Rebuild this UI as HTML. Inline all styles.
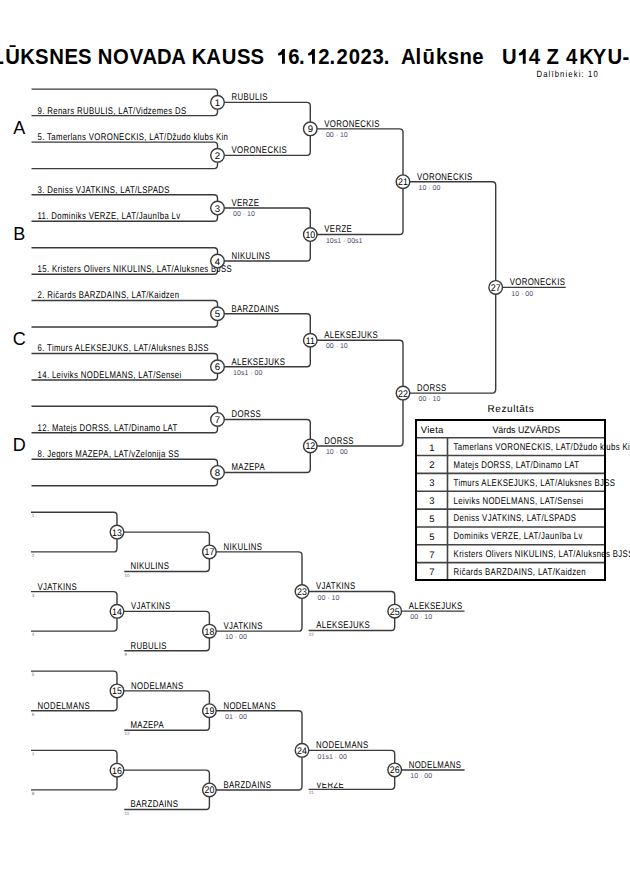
<!DOCTYPE html>
<html><head><meta charset="utf-8"><style>
html,body{margin:0;padding:0;background:#fff;width:630px;height:891px;overflow:hidden}
svg{position:absolute;left:0;top:0;font-family:"Liberation Sans", sans-serif}
</style></head><body>
<svg width="630" height="891" viewBox="0 0 630 891">
<defs><clipPath id="cv"><rect x="300" y="782.8" width="100" height="20"/></clipPath></defs>
<path d="M31.5 89.1 H214.0 Q217.5 89.1 217.5 92.6 V102.35" fill="none" stroke="#3a3a3a" stroke-width="1.4"/>
<path d="M31.5 115.6 H214.0 Q217.5 115.6 217.5 112.1 V102.35" fill="none" stroke="#3a3a3a" stroke-width="1.4"/>
<path d="M31.5 142.1 H214.0 Q217.5 142.1 217.5 145.6 V155.35" fill="none" stroke="#3a3a3a" stroke-width="1.4"/>
<path d="M31.5 168.6 H214.0 Q217.5 168.6 217.5 165.1 V155.35" fill="none" stroke="#3a3a3a" stroke-width="1.4"/>
<path d="M217.5 102.35 H306.8 Q310.3 102.35 310.3 105.85 V128.85" fill="none" stroke="#3a3a3a" stroke-width="1.4"/>
<path d="M217.5 155.35 H306.8 Q310.3 155.35 310.3 151.85 V128.85" fill="none" stroke="#3a3a3a" stroke-width="1.4"/>
<path d="M31.5 194.8 H214.0 Q217.5 194.8 217.5 198.3 V208.05" fill="none" stroke="#3a3a3a" stroke-width="1.4"/>
<path d="M31.5 221.3 H214.0 Q217.5 221.3 217.5 217.8 V208.05" fill="none" stroke="#3a3a3a" stroke-width="1.4"/>
<path d="M31.5 247.8 H214.0 Q217.5 247.8 217.5 251.3 V261.05" fill="none" stroke="#3a3a3a" stroke-width="1.4"/>
<path d="M31.5 274.3 H214.0 Q217.5 274.3 217.5 270.8 V261.05" fill="none" stroke="#3a3a3a" stroke-width="1.4"/>
<path d="M217.5 208.05 H306.8 Q310.3 208.05 310.3 211.55 V234.55" fill="none" stroke="#3a3a3a" stroke-width="1.4"/>
<path d="M217.5 261.05 H306.8 Q310.3 261.05 310.3 257.55 V234.55" fill="none" stroke="#3a3a3a" stroke-width="1.4"/>
<path d="M31.5 300.5 H214.0 Q217.5 300.5 217.5 304.0 V313.75" fill="none" stroke="#3a3a3a" stroke-width="1.4"/>
<path d="M31.5 327.0 H214.0 Q217.5 327.0 217.5 323.5 V313.75" fill="none" stroke="#3a3a3a" stroke-width="1.4"/>
<path d="M31.5 353.5 H214.0 Q217.5 353.5 217.5 357.0 V366.75" fill="none" stroke="#3a3a3a" stroke-width="1.4"/>
<path d="M31.5 380.0 H214.0 Q217.5 380.0 217.5 376.5 V366.75" fill="none" stroke="#3a3a3a" stroke-width="1.4"/>
<path d="M217.5 313.75 H306.8 Q310.3 313.75 310.3 317.25 V340.25" fill="none" stroke="#3a3a3a" stroke-width="1.4"/>
<path d="M217.5 366.75 H306.8 Q310.3 366.75 310.3 363.25 V340.25" fill="none" stroke="#3a3a3a" stroke-width="1.4"/>
<path d="M31.5 406.20000000000005 H214.0 Q217.5 406.20000000000005 217.5 409.70000000000005 V419.45000000000005" fill="none" stroke="#3a3a3a" stroke-width="1.4"/>
<path d="M31.5 432.70000000000005 H214.0 Q217.5 432.70000000000005 217.5 429.20000000000005 V419.45000000000005" fill="none" stroke="#3a3a3a" stroke-width="1.4"/>
<path d="M31.5 459.20000000000005 H214.0 Q217.5 459.20000000000005 217.5 462.70000000000005 V472.45000000000005" fill="none" stroke="#3a3a3a" stroke-width="1.4"/>
<path d="M31.5 485.70000000000005 H214.0 Q217.5 485.70000000000005 217.5 482.20000000000005 V472.45000000000005" fill="none" stroke="#3a3a3a" stroke-width="1.4"/>
<path d="M217.5 419.45000000000005 H306.8 Q310.3 419.45000000000005 310.3 422.95000000000005 V445.95000000000005" fill="none" stroke="#3a3a3a" stroke-width="1.4"/>
<path d="M217.5 472.45000000000005 H306.8 Q310.3 472.45000000000005 310.3 468.95000000000005 V445.95000000000005" fill="none" stroke="#3a3a3a" stroke-width="1.4"/>
<path d="M310.3 128.85 H399.5 Q403.0 128.85 403.0 132.35 V181.7" fill="none" stroke="#3a3a3a" stroke-width="1.4"/>
<path d="M310.3 234.55 H399.5 Q403.0 234.55 403.0 231.05 V181.7" fill="none" stroke="#3a3a3a" stroke-width="1.4"/>
<path d="M310.3 340.25 H399.5 Q403.0 340.25 403.0 343.75 V393.1" fill="none" stroke="#3a3a3a" stroke-width="1.4"/>
<path d="M310.3 445.95000000000005 H399.5 Q403.0 445.95000000000005 403.0 442.45000000000005 V393.1" fill="none" stroke="#3a3a3a" stroke-width="1.4"/>
<path d="M403.0 181.7 H492.2 Q495.7 181.7 495.7 185.2 V287.4" fill="none" stroke="#3a3a3a" stroke-width="1.4"/>
<path d="M403.0 393.1 H492.2 Q495.7 393.1 495.7 389.6 V287.4" fill="none" stroke="#3a3a3a" stroke-width="1.4"/>
<path d="M495.7 287.4 H565.7" fill="none" stroke="#3a3a3a" stroke-width="1.4"/>
<text x="19.2" y="133.85" font-size="18" fill="#000" text-anchor="middle" font-weight="400" >A</text>
<text x="19.2" y="239.55" font-size="18" fill="#000" text-anchor="middle" font-weight="400" >B</text>
<text x="19.2" y="345.25" font-size="18" fill="#000" text-anchor="middle" font-weight="400" >C</text>
<text x="19.2" y="450.95000000000005" font-size="18" fill="#000" text-anchor="middle" font-weight="400" >D</text>
<text transform="matrix(0.8,0,0.001,1,37.50,113.50)" font-size="9.75" fill="#000" text-anchor="start" font-weight="400"  letter-spacing="0.45">9. Renars RUBULIS, LAT/Vidzemes DS</text>
<text transform="matrix(0.8,0,0.001,1,37.50,140.00)" font-size="9.75" fill="#000" text-anchor="start" font-weight="400"  letter-spacing="0.45">5. Tamerlans VORONECKIS, LAT/Džudo klubs Kin</text>
<text transform="matrix(0.8,0,0.001,1,37.50,192.70)" font-size="9.75" fill="#000" text-anchor="start" font-weight="400"  letter-spacing="0.45">3. Deniss VJATKINS, LAT/LSPADS</text>
<text transform="matrix(0.8,0,0.001,1,37.50,219.20)" font-size="9.75" fill="#000" text-anchor="start" font-weight="400"  letter-spacing="0.45">11. Dominiks VERZE, LAT/Jaunība Lv</text>
<text transform="matrix(0.8,0,0.001,1,37.50,272.20)" font-size="9.75" fill="#000" text-anchor="start" font-weight="400"  letter-spacing="0.45">15. Kristers Olivers NIKULINS, LAT/Aluksnes BJSS</text>
<text transform="matrix(0.8,0,0.001,1,37.50,298.40)" font-size="9.75" fill="#000" text-anchor="start" font-weight="400"  letter-spacing="0.45">2. Ričards BARZDAINS, LAT/Kaidzen</text>
<text transform="matrix(0.8,0,0.001,1,37.50,351.40)" font-size="9.75" fill="#000" text-anchor="start" font-weight="400"  letter-spacing="0.45">6. Timurs ALEKSEJUKS, LAT/Aluksnes BJSS</text>
<text transform="matrix(0.8,0,0.001,1,37.50,377.90)" font-size="9.75" fill="#000" text-anchor="start" font-weight="400"  letter-spacing="0.45">14. Leiviks NODELMANS, LAT/Sensei</text>
<text transform="matrix(0.8,0,0.001,1,37.50,430.60)" font-size="9.75" fill="#000" text-anchor="start" font-weight="400"  letter-spacing="0.45">12. Matejs DORSS, LAT/Dinamo LAT</text>
<text transform="matrix(0.8,0,0.001,1,37.50,457.10)" font-size="9.75" fill="#000" text-anchor="start" font-weight="400"  letter-spacing="0.45">8. Jegors MAZEPA, LAT/vZelonija SS</text>
<text transform="matrix(0.8,0,0.001,1,231.50,100.15)" font-size="9.75" fill="#000" text-anchor="start" font-weight="400"  letter-spacing="0.45">RUBULIS</text>
<text transform="matrix(0.8,0,0.001,1,231.50,153.15)" font-size="9.75" fill="#000" text-anchor="start" font-weight="400"  letter-spacing="0.45">VORONECKIS</text>
<text transform="matrix(0.8,0,0.001,1,324.30,126.65)" font-size="9.75" fill="#000" text-anchor="start" font-weight="400"  letter-spacing="0.45">VORONECKIS</text>
<text transform="matrix(1.0,0,0.001,1,325.90,137.05)" font-size="7" fill="#48486e" text-anchor="start" font-weight="400" >00 · 10</text>
<text transform="matrix(0.8,0,0.001,1,231.50,205.85)" font-size="9.75" fill="#000" text-anchor="start" font-weight="400"  letter-spacing="0.45">VERZE</text>
<text transform="matrix(1.0,0,0.001,1,233.10,216.25)" font-size="7" fill="#48486e" text-anchor="start" font-weight="400" >00 · 10</text>
<text transform="matrix(0.8,0,0.001,1,231.50,258.85)" font-size="9.75" fill="#000" text-anchor="start" font-weight="400"  letter-spacing="0.45">NIKULINS</text>
<text transform="matrix(0.8,0,0.001,1,324.30,232.35)" font-size="9.75" fill="#000" text-anchor="start" font-weight="400"  letter-spacing="0.45">VERZE</text>
<text transform="matrix(1.0,0,0.001,1,325.90,242.75)" font-size="7" fill="#48486e" text-anchor="start" font-weight="400" >10s1 · 00s1</text>
<text transform="matrix(0.8,0,0.001,1,231.50,311.55)" font-size="9.75" fill="#000" text-anchor="start" font-weight="400"  letter-spacing="0.45">BARZDAINS</text>
<text transform="matrix(0.8,0,0.001,1,231.50,364.55)" font-size="9.75" fill="#000" text-anchor="start" font-weight="400"  letter-spacing="0.45">ALEKSEJUKS</text>
<text transform="matrix(1.0,0,0.001,1,233.10,374.95)" font-size="7" fill="#48486e" text-anchor="start" font-weight="400" >10s1 · 00</text>
<text transform="matrix(0.8,0,0.001,1,324.30,338.05)" font-size="9.75" fill="#000" text-anchor="start" font-weight="400"  letter-spacing="0.45">ALEKSEJUKS</text>
<text transform="matrix(1.0,0,0.001,1,325.90,348.45)" font-size="7" fill="#48486e" text-anchor="start" font-weight="400" >00 · 10</text>
<text transform="matrix(0.8,0,0.001,1,231.50,417.25)" font-size="9.75" fill="#000" text-anchor="start" font-weight="400"  letter-spacing="0.45">DORSS</text>
<text transform="matrix(0.8,0,0.001,1,231.50,470.25)" font-size="9.75" fill="#000" text-anchor="start" font-weight="400"  letter-spacing="0.45">MAZEPA</text>
<text transform="matrix(0.8,0,0.001,1,324.30,443.75)" font-size="9.75" fill="#000" text-anchor="start" font-weight="400"  letter-spacing="0.45">DORSS</text>
<text transform="matrix(1.0,0,0.001,1,325.90,454.15)" font-size="7" fill="#48486e" text-anchor="start" font-weight="400" >10 · 00</text>
<text transform="matrix(0.8,0,0.001,1,417.00,179.50)" font-size="9.75" fill="#000" text-anchor="start" font-weight="400"  letter-spacing="0.45">VORONECKIS</text>
<text transform="matrix(1.0,0,0.001,1,418.60,189.90)" font-size="7" fill="#48486e" text-anchor="start" font-weight="400" >10 · 00</text>
<text transform="matrix(0.8,0,0.001,1,417.00,390.90)" font-size="9.75" fill="#000" text-anchor="start" font-weight="400"  letter-spacing="0.45">DORSS</text>
<text transform="matrix(1.0,0,0.001,1,418.60,401.30)" font-size="7" fill="#48486e" text-anchor="start" font-weight="400" >00 · 10</text>
<text transform="matrix(0.8,0,0.001,1,509.70,285.20)" font-size="9.75" fill="#000" text-anchor="start" font-weight="400"  letter-spacing="0.45">VORONECKIS</text>
<text transform="matrix(1.0,0,0.001,1,511.30,295.60)" font-size="7" fill="#48486e" text-anchor="start" font-weight="400" >10 · 00</text>
<path d="M31.0 512.3 H113.5 Q117.0 512.3 117.0 515.8 V532.0999999999999" fill="none" stroke="#3a3a3a" stroke-width="1.4"/>
<path d="M31.0 551.9 H113.5 Q117.0 551.9 117.0 548.4 V532.0999999999999" fill="none" stroke="#3a3a3a" stroke-width="1.4"/>
<path d="M31.0 591.5999999999999 H113.5 Q117.0 591.5999999999999 117.0 595.0999999999999 V611.3499999999999" fill="none" stroke="#3a3a3a" stroke-width="1.4"/>
<path d="M31.0 631.0999999999999 H113.5 Q117.0 631.0999999999999 117.0 627.5999999999999 V611.3499999999999" fill="none" stroke="#3a3a3a" stroke-width="1.4"/>
<path d="M117.0 532.0999999999999 H205.9 Q209.4 532.0999999999999 209.4 535.5999999999999 V551.8999999999999" fill="none" stroke="#3a3a3a" stroke-width="1.4"/>
<path d="M124.3 571.4999999999999 H205.9 Q209.4 571.4999999999999 209.4 567.9999999999999 V551.8999999999999" fill="none" stroke="#3a3a3a" stroke-width="1.4"/>
<path d="M117.0 611.3499999999999 H205.9 Q209.4 611.3499999999999 209.4 614.8499999999999 V631.1499999999999" fill="none" stroke="#3a3a3a" stroke-width="1.4"/>
<path d="M124.3 650.7499999999999 H205.9 Q209.4 650.7499999999999 209.4 647.2499999999999 V631.1499999999999" fill="none" stroke="#3a3a3a" stroke-width="1.4"/>
<path d="M209.4 551.8999999999999 H298.5 Q302.0 551.8999999999999 302.0 555.3999999999999 V591.5249999999999" fill="none" stroke="#3a3a3a" stroke-width="1.4"/>
<path d="M209.4 631.1499999999999 H298.5 Q302.0 631.1499999999999 302.0 627.6499999999999 V591.5249999999999" fill="none" stroke="#3a3a3a" stroke-width="1.4"/>
<path d="M302.0 591.5249999999999 H391.2 Q394.7 591.5249999999999 394.7 595.0249999999999 V611.1249999999999" fill="none" stroke="#3a3a3a" stroke-width="1.4"/>
<path d="M308.6 630.5249999999999 H391.2 Q394.7 630.5249999999999 394.7 627.0249999999999 V611.1249999999999" fill="none" stroke="#3a3a3a" stroke-width="1.4"/>
<path d="M394.7 611.1249999999999 H464.6" fill="none" stroke="#3a3a3a" stroke-width="1.4"/>
<text transform="matrix(1.0,0,0.001,1,31.70,517.40)" font-size="4.6" fill="#8a7070" text-anchor="start" font-weight="400" >1</text>
<text transform="matrix(1.0,0,0.001,1,31.70,557.00)" font-size="4.6" fill="#8a7070" text-anchor="start" font-weight="400" >2</text>
<text transform="matrix(1.0,0,0.001,1,31.70,596.70)" font-size="4.6" fill="#8a7070" text-anchor="start" font-weight="400" >3</text>
<text transform="matrix(1.0,0,0.001,1,31.70,636.20)" font-size="4.6" fill="#8a7070" text-anchor="start" font-weight="400" >4</text>
<text transform="matrix(0.8,0,0.001,1,37.50,589.50)" font-size="9.75" fill="#000" text-anchor="start" font-weight="400"  letter-spacing="0.45">VJATKINS</text>
<text transform="matrix(1.0,0,0.001,1,124.50,576.60)" font-size="4.6" fill="#8a7070" text-anchor="start" font-weight="400" >10</text>
<text transform="matrix(0.8,0,0.001,1,130.50,569.40)" font-size="9.75" fill="#000" text-anchor="start" font-weight="400"  letter-spacing="0.45">NIKULINS</text>
<text transform="matrix(1.0,0,0.001,1,124.50,655.85)" font-size="4.6" fill="#8a7070" text-anchor="start" font-weight="400" >9</text>
<text transform="matrix(0.8,0,0.001,1,130.50,648.65)" font-size="9.75" fill="#000" text-anchor="start" font-weight="400"  letter-spacing="0.45">RUBULIS</text>
<text transform="matrix(1.0,0,0.001,1,308.80,635.62)" font-size="4.6" fill="#8a7070" text-anchor="start" font-weight="400" >22</text>
<text transform="matrix(0.8,0,0.001,1,316.30,628.42)" font-size="9.75" fill="#000" text-anchor="start" font-weight="400"  letter-spacing="0.45">ALEKSEJUKS</text>
<text transform="matrix(0.8,0,0.001,1,223.40,549.70)" font-size="9.75" fill="#000" text-anchor="start" font-weight="400"  letter-spacing="0.45">NIKULINS</text>
<text transform="matrix(0.8,0,0.001,1,131.00,609.15)" font-size="9.75" fill="#000" text-anchor="start" font-weight="400"  letter-spacing="0.45">VJATKINS</text>
<text transform="matrix(0.8,0,0.001,1,223.40,628.95)" font-size="9.75" fill="#000" text-anchor="start" font-weight="400"  letter-spacing="0.45">VJATKINS</text>
<text transform="matrix(1.0,0,0.001,1,225.00,639.35)" font-size="7" fill="#48486e" text-anchor="start" font-weight="400" >10 · 00</text>
<text transform="matrix(0.8,0,0.001,1,316.00,589.32)" font-size="9.75" fill="#000" text-anchor="start" font-weight="400"  letter-spacing="0.45">VJATKINS</text>
<text transform="matrix(1.0,0,0.001,1,317.60,599.72)" font-size="7" fill="#48486e" text-anchor="start" font-weight="400" >00 · 10</text>
<text transform="matrix(0.8,0,0.001,1,408.70,608.92)" font-size="9.75" fill="#000" text-anchor="start" font-weight="400"  letter-spacing="0.45">ALEKSEJUKS</text>
<text transform="matrix(1.0,0,0.001,1,410.30,619.32)" font-size="7" fill="#48486e" text-anchor="start" font-weight="400" >00 · 10</text>
<path d="M31.0 671.1 H113.5 Q117.0 671.1 117.0 674.6 V690.9000000000001" fill="none" stroke="#3a3a3a" stroke-width="1.4"/>
<path d="M31.0 710.7 H113.5 Q117.0 710.7 117.0 707.2 V690.9000000000001" fill="none" stroke="#3a3a3a" stroke-width="1.4"/>
<path d="M31.0 750.4 H113.5 Q117.0 750.4 117.0 753.9 V770.15" fill="none" stroke="#3a3a3a" stroke-width="1.4"/>
<path d="M31.0 789.9 H113.5 Q117.0 789.9 117.0 786.4 V770.15" fill="none" stroke="#3a3a3a" stroke-width="1.4"/>
<path d="M117.0 690.9000000000001 H205.9 Q209.4 690.9000000000001 209.4 694.4000000000001 V710.7" fill="none" stroke="#3a3a3a" stroke-width="1.4"/>
<path d="M124.3 730.3000000000001 H205.9 Q209.4 730.3000000000001 209.4 726.8000000000001 V710.7" fill="none" stroke="#3a3a3a" stroke-width="1.4"/>
<path d="M117.0 770.15 H205.9 Q209.4 770.15 209.4 773.65 V789.9499999999999" fill="none" stroke="#3a3a3a" stroke-width="1.4"/>
<path d="M124.3 809.55 H205.9 Q209.4 809.55 209.4 806.05 V789.9499999999999" fill="none" stroke="#3a3a3a" stroke-width="1.4"/>
<path d="M209.4 710.7 H298.5 Q302.0 710.7 302.0 714.2 V750.325" fill="none" stroke="#3a3a3a" stroke-width="1.4"/>
<path d="M209.4 789.9499999999999 H298.5 Q302.0 789.9499999999999 302.0 786.4499999999999 V750.325" fill="none" stroke="#3a3a3a" stroke-width="1.4"/>
<path d="M302.0 750.325 H391.2 Q394.7 750.325 394.7 753.825 V769.9250000000001" fill="none" stroke="#3a3a3a" stroke-width="1.4"/>
<path d="M308.6 789.325 H391.2 Q394.7 789.325 394.7 785.825 V769.9250000000001" fill="none" stroke="#3a3a3a" stroke-width="1.4"/>
<path d="M394.7 769.9250000000001 H464.6" fill="none" stroke="#3a3a3a" stroke-width="1.4"/>
<text transform="matrix(1.0,0,0.001,1,31.70,676.20)" font-size="4.6" fill="#8a7070" text-anchor="start" font-weight="400" >5</text>
<text transform="matrix(1.0,0,0.001,1,31.70,715.80)" font-size="4.6" fill="#8a7070" text-anchor="start" font-weight="400" >6</text>
<text transform="matrix(1.0,0,0.001,1,31.70,755.50)" font-size="4.6" fill="#8a7070" text-anchor="start" font-weight="400" >7</text>
<text transform="matrix(1.0,0,0.001,1,31.70,795.00)" font-size="4.6" fill="#8a7070" text-anchor="start" font-weight="400" >8</text>
<text transform="matrix(0.8,0,0.001,1,37.50,708.60)" font-size="9.75" fill="#000" text-anchor="start" font-weight="400"  letter-spacing="0.45">NODELMANS</text>
<text transform="matrix(1.0,0,0.001,1,124.50,735.40)" font-size="4.6" fill="#8a7070" text-anchor="start" font-weight="400" >12</text>
<text transform="matrix(0.8,0,0.001,1,130.50,728.20)" font-size="9.75" fill="#000" text-anchor="start" font-weight="400"  letter-spacing="0.45">MAZEPA</text>
<text transform="matrix(1.0,0,0.001,1,124.50,814.65)" font-size="4.6" fill="#8a7070" text-anchor="start" font-weight="400" >11</text>
<text transform="matrix(0.8,0,0.001,1,130.50,807.45)" font-size="9.75" fill="#000" text-anchor="start" font-weight="400"  letter-spacing="0.45">BARZDAINS</text>
<text transform="matrix(1.0,0,0.001,1,308.80,794.43)" font-size="4.6" fill="#8a7070" text-anchor="start" font-weight="400" >21</text>
<g clip-path="url(#cv)">
<text transform="matrix(0.8,0,0.001,1,316.30,787.83)" font-size="9.75" fill="#000" text-anchor="start" font-weight="400"  letter-spacing="0.45">VERZE</text>
</g>
<text transform="matrix(0.8,0,0.001,1,131.00,688.70)" font-size="9.75" fill="#000" text-anchor="start" font-weight="400"  letter-spacing="0.45">NODELMANS</text>
<text transform="matrix(0.8,0,0.001,1,223.40,708.50)" font-size="9.75" fill="#000" text-anchor="start" font-weight="400"  letter-spacing="0.45">NODELMANS</text>
<text transform="matrix(1.0,0,0.001,1,225.00,718.90)" font-size="7" fill="#48486e" text-anchor="start" font-weight="400" >01 · 00</text>
<text transform="matrix(0.8,0,0.001,1,223.40,787.75)" font-size="9.75" fill="#000" text-anchor="start" font-weight="400"  letter-spacing="0.45">BARZDAINS</text>
<text transform="matrix(0.8,0,0.001,1,316.00,748.12)" font-size="9.75" fill="#000" text-anchor="start" font-weight="400"  letter-spacing="0.45">NODELMANS</text>
<text transform="matrix(1.0,0,0.001,1,317.60,758.53)" font-size="7" fill="#48486e" text-anchor="start" font-weight="400" >01s1 · 00</text>
<text transform="matrix(0.8,0,0.001,1,408.70,767.73)" font-size="9.75" fill="#000" text-anchor="start" font-weight="400"  letter-spacing="0.45">NODELMANS</text>
<text transform="matrix(1.0,0,0.001,1,410.30,778.13)" font-size="7" fill="#48486e" text-anchor="start" font-weight="400" >10 · 00</text>
<text transform="matrix(0.93,0,0,1,0,63.8)" x="-25.95 -9.05 5.56 21.68 37.55 53.04 69.33 83.90" font-size="21.8" font-weight="700" fill="#000">ALŪKSNES</text>
<text transform="matrix(0.93,0,0,1,0,63.8)" x="105.13 121.55 139.45 153.18 168.88 184.26" font-size="21.8" font-weight="700" fill="#000">NOVADA</text>
<text transform="matrix(0.93,0,0,1,0,63.8)" x="206.30 221.68 238.58 254.87 269.27" font-size="21.8" font-weight="700" fill="#000">KAUSS</text>
<text transform="matrix(0.93,0,0,1,0,63.8)" x="309.91 321.61 342.17 354.19 361.85 374.91 387.55 400.56 412.52" font-size="21.8" font-weight="700" fill="#000">6.2.2023.</text>
<path d="M282.50 48.9 L284.90 48.9 L284.90 63.8 L282.00 63.8 L282.00 54.40 Q280.50 55.10 278.10 55.60 L278.10 53.30 Q280.80 52.50 282.50 48.9 Z" fill="#000"/>
<path d="M312.50 48.9 L314.90 48.9 L314.90 63.8 L312.00 63.8 L312.00 54.40 Q310.50 55.10 308.10 55.60 L308.10 53.30 Q310.80 52.50 312.50 48.9 Z" fill="#000"/>
<path d="M523.30 48.9 L525.70 48.9 L525.70 63.8 L522.80 63.8 L522.80 54.40 Q521.30 55.10 518.90 55.60 L518.90 53.30 Q521.60 52.50 523.30 48.9 Z" fill="#000"/>
<text transform="matrix(0.93,0,0,1,0,63.8)" x="431.09 446.82 454.31 468.91 481.47 494.04 507.87" font-size="21.8" font-weight="700" fill="#000">Alūksne</text>
<text transform="matrix(0.93,0,0,1,0,63.8)" x="539.87 568.46 587.73" font-size="21.8" font-weight="700" fill="#000">U4Z</text>
<text transform="matrix(0.93,0,0,1,0,63.8)" x="608.68 622.81 637.39 653.20 669.40" font-size="21.8" font-weight="700" fill="#000">4KYU-</text>
<text transform="matrix(0.85,0,0.001,1,536.50,76.60)" font-size="9" fill="#000" text-anchor="start" font-weight="400" letter-spacing="1.35">Dalībnieki: 10</text>
<text transform="matrix(1.0,0,0.001,1,487.60,411.90)" font-size="10" fill="#000" text-anchor="start" font-weight="400" letter-spacing="0.55">Rezultāts</text>
<path d="M416.0 437.7 H605.0" fill="none" stroke="#444" stroke-width="1.6"/>
<path d="M416.0 455.55 H605.0" fill="none" stroke="#444" stroke-width="1.6"/>
<path d="M416.0 473.4 H605.0" fill="none" stroke="#444" stroke-width="1.6"/>
<path d="M416.0 491.25 H605.0" fill="none" stroke="#444" stroke-width="1.6"/>
<path d="M416.0 509.1 H605.0" fill="none" stroke="#444" stroke-width="1.6"/>
<path d="M416.0 526.95 H605.0" fill="none" stroke="#444" stroke-width="1.6"/>
<path d="M416.0 544.8 H605.0" fill="none" stroke="#444" stroke-width="1.6"/>
<path d="M416.0 562.65 H605.0" fill="none" stroke="#444" stroke-width="1.6"/>
<path d="M447.5 437.7 V580.0" fill="none" stroke="#444" stroke-width="1.6"/>
<path d="M416.0 420.0 H605.0 V580.0 H416.0 Z" fill="none" stroke="#000" stroke-width="2.0"/>
<text transform="matrix(1.0,0,0.001,1,432.20,433.00)" font-size="9.5" fill="#000" text-anchor="middle" font-weight="400" letter-spacing="0.25">Vieta</text>
<text transform="matrix(0.93,0,0.001,1,526.30,433.00)" font-size="9.5" fill="#000" text-anchor="middle" font-weight="400" >Vārds UZVĀRDS</text>
<text transform="matrix(1.0,0,0.001,1,432.00,450.53)" font-size="9.5" fill="#000" text-anchor="middle" font-weight="400" >1</text>
<text transform="matrix(0.8,0,0.001,1,453.60,450.03)" font-size="9.75" fill="#000" text-anchor="start" font-weight="400"  letter-spacing="0.45">Tamerlans VORONECKIS, LAT/Džudo klubs Kin</text>
<text transform="matrix(1.0,0,0.001,1,432.00,468.38)" font-size="9.5" fill="#000" text-anchor="middle" font-weight="400" >2</text>
<text transform="matrix(0.8,0,0.001,1,453.60,467.88)" font-size="9.75" fill="#000" text-anchor="start" font-weight="400"  letter-spacing="0.45">Matejs DORSS, LAT/Dinamo LAT</text>
<text transform="matrix(1.0,0,0.001,1,432.00,486.23)" font-size="9.5" fill="#000" text-anchor="middle" font-weight="400" >3</text>
<text transform="matrix(0.8,0,0.001,1,453.60,485.73)" font-size="9.75" fill="#000" text-anchor="start" font-weight="400"  letter-spacing="0.45">Timurs ALEKSEJUKS, LAT/Aluksnes BJSS</text>
<text transform="matrix(1.0,0,0.001,1,432.00,504.08)" font-size="9.5" fill="#000" text-anchor="middle" font-weight="400" >3</text>
<text transform="matrix(0.8,0,0.001,1,453.60,503.58)" font-size="9.75" fill="#000" text-anchor="start" font-weight="400"  letter-spacing="0.45">Leiviks NODELMANS, LAT/Sensei</text>
<text transform="matrix(1.0,0,0.001,1,432.00,521.93)" font-size="9.5" fill="#000" text-anchor="middle" font-weight="400" >5</text>
<text transform="matrix(0.8,0,0.001,1,453.60,521.43)" font-size="9.75" fill="#000" text-anchor="start" font-weight="400"  letter-spacing="0.45">Deniss VJATKINS, LAT/LSPADS</text>
<text transform="matrix(1.0,0,0.001,1,432.00,539.77)" font-size="9.5" fill="#000" text-anchor="middle" font-weight="400" >5</text>
<text transform="matrix(0.8,0,0.001,1,453.60,539.27)" font-size="9.75" fill="#000" text-anchor="start" font-weight="400"  letter-spacing="0.45">Dominiks VERZE, LAT/Jaunība Lv</text>
<text transform="matrix(1.0,0,0.001,1,432.00,557.62)" font-size="9.5" fill="#000" text-anchor="middle" font-weight="400" >7</text>
<text transform="matrix(0.8,0,0.001,1,453.60,557.12)" font-size="9.75" fill="#000" text-anchor="start" font-weight="400"  letter-spacing="0.45">Kristers Olivers NIKULINS, LAT/Aluksnes BJSS</text>
<text transform="matrix(1.0,0,0.001,1,432.00,575.23)" font-size="9.5" fill="#000" text-anchor="middle" font-weight="400" >7</text>
<text transform="matrix(0.8,0,0.001,1,453.60,574.73)" font-size="9.75" fill="#000" text-anchor="start" font-weight="400"  letter-spacing="0.45">Ričards BARZDAINS, LAT/Kaidzen</text>
<circle cx="217.5" cy="102.35" r="6.8" fill="#fff" stroke="#3a3a3a" stroke-width="1.4"/>
<text transform="matrix(1,0,0.001,1,217.50,105.80)" font-size="9.6" fill="#000" text-anchor="middle">1</text>
<circle cx="217.5" cy="155.35" r="6.8" fill="#fff" stroke="#3a3a3a" stroke-width="1.4"/>
<text transform="matrix(1,0,0.001,1,217.50,158.80)" font-size="9.6" fill="#000" text-anchor="middle">2</text>
<circle cx="310.3" cy="128.85" r="6.8" fill="#fff" stroke="#3a3a3a" stroke-width="1.4"/>
<text transform="matrix(1,0,0.001,1,310.30,132.30)" font-size="9.6" fill="#000" text-anchor="middle">9</text>
<circle cx="217.5" cy="208.05" r="6.8" fill="#fff" stroke="#3a3a3a" stroke-width="1.4"/>
<text transform="matrix(1,0,0.001,1,217.50,211.50)" font-size="9.6" fill="#000" text-anchor="middle">3</text>
<circle cx="217.5" cy="261.05" r="6.8" fill="#fff" stroke="#3a3a3a" stroke-width="1.4"/>
<text transform="matrix(1,0,0.001,1,217.50,264.50)" font-size="9.6" fill="#000" text-anchor="middle">4</text>
<circle cx="310.3" cy="234.55" r="6.8" fill="#fff" stroke="#3a3a3a" stroke-width="1.4"/>
<text transform="matrix(0.92,0,0.001,1,310.30,238.00)" font-size="9.6" fill="#000" text-anchor="middle">10</text>
<circle cx="217.5" cy="313.75" r="6.8" fill="#fff" stroke="#3a3a3a" stroke-width="1.4"/>
<text transform="matrix(1,0,0.001,1,217.50,317.20)" font-size="9.6" fill="#000" text-anchor="middle">5</text>
<circle cx="217.5" cy="366.75" r="6.8" fill="#fff" stroke="#3a3a3a" stroke-width="1.4"/>
<text transform="matrix(1,0,0.001,1,217.50,370.20)" font-size="9.6" fill="#000" text-anchor="middle">6</text>
<circle cx="310.3" cy="340.25" r="6.8" fill="#fff" stroke="#3a3a3a" stroke-width="1.4"/>
<text transform="matrix(0.92,0,0.001,1,310.30,343.70)" font-size="9.6" fill="#000" text-anchor="middle">11</text>
<circle cx="217.5" cy="419.45000000000005" r="6.8" fill="#fff" stroke="#3a3a3a" stroke-width="1.4"/>
<text transform="matrix(1,0,0.001,1,217.50,422.90)" font-size="9.6" fill="#000" text-anchor="middle">7</text>
<circle cx="217.5" cy="472.45000000000005" r="6.8" fill="#fff" stroke="#3a3a3a" stroke-width="1.4"/>
<text transform="matrix(1,0,0.001,1,217.50,475.90)" font-size="9.6" fill="#000" text-anchor="middle">8</text>
<circle cx="310.3" cy="445.95000000000005" r="6.8" fill="#fff" stroke="#3a3a3a" stroke-width="1.4"/>
<text transform="matrix(0.92,0,0.001,1,310.30,449.40)" font-size="9.6" fill="#000" text-anchor="middle">12</text>
<circle cx="403.0" cy="181.7" r="6.8" fill="#fff" stroke="#3a3a3a" stroke-width="1.4"/>
<text transform="matrix(0.92,0,0.001,1,403.00,185.15)" font-size="9.6" fill="#000" text-anchor="middle">21</text>
<circle cx="403.0" cy="393.1" r="6.8" fill="#fff" stroke="#3a3a3a" stroke-width="1.4"/>
<text transform="matrix(0.92,0,0.001,1,403.00,396.55)" font-size="9.6" fill="#000" text-anchor="middle">22</text>
<circle cx="495.7" cy="287.4" r="6.8" fill="#fff" stroke="#3a3a3a" stroke-width="1.4"/>
<text transform="matrix(0.92,0,0.001,1,495.70,290.85)" font-size="9.6" fill="#000" text-anchor="middle">27</text>
<circle cx="117.0" cy="532.0999999999999" r="6.8" fill="#fff" stroke="#3a3a3a" stroke-width="1.4"/>
<text transform="matrix(0.92,0,0.001,1,117.00,535.55)" font-size="9.6" fill="#000" text-anchor="middle">13</text>
<circle cx="117.0" cy="611.3499999999999" r="6.8" fill="#fff" stroke="#3a3a3a" stroke-width="1.4"/>
<text transform="matrix(0.92,0,0.001,1,117.00,614.80)" font-size="9.6" fill="#000" text-anchor="middle">14</text>
<circle cx="209.4" cy="551.8999999999999" r="6.8" fill="#fff" stroke="#3a3a3a" stroke-width="1.4"/>
<text transform="matrix(0.92,0,0.001,1,209.40,555.35)" font-size="9.6" fill="#000" text-anchor="middle">17</text>
<circle cx="209.4" cy="631.1499999999999" r="6.8" fill="#fff" stroke="#3a3a3a" stroke-width="1.4"/>
<text transform="matrix(0.92,0,0.001,1,209.40,634.60)" font-size="9.6" fill="#000" text-anchor="middle">18</text>
<circle cx="302.0" cy="591.5249999999999" r="6.8" fill="#fff" stroke="#3a3a3a" stroke-width="1.4"/>
<text transform="matrix(0.92,0,0.001,1,302.00,594.97)" font-size="9.6" fill="#000" text-anchor="middle">23</text>
<circle cx="394.7" cy="611.1249999999999" r="6.8" fill="#fff" stroke="#3a3a3a" stroke-width="1.4"/>
<text transform="matrix(0.92,0,0.001,1,394.70,614.57)" font-size="9.6" fill="#000" text-anchor="middle">25</text>
<circle cx="117.0" cy="690.9000000000001" r="6.8" fill="#fff" stroke="#3a3a3a" stroke-width="1.4"/>
<text transform="matrix(0.92,0,0.001,1,117.00,694.35)" font-size="9.6" fill="#000" text-anchor="middle">15</text>
<circle cx="117.0" cy="770.15" r="6.8" fill="#fff" stroke="#3a3a3a" stroke-width="1.4"/>
<text transform="matrix(0.92,0,0.001,1,117.00,773.60)" font-size="9.6" fill="#000" text-anchor="middle">16</text>
<circle cx="209.4" cy="710.7" r="6.8" fill="#fff" stroke="#3a3a3a" stroke-width="1.4"/>
<text transform="matrix(0.92,0,0.001,1,209.40,714.15)" font-size="9.6" fill="#000" text-anchor="middle">19</text>
<circle cx="209.4" cy="789.9499999999999" r="6.8" fill="#fff" stroke="#3a3a3a" stroke-width="1.4"/>
<text transform="matrix(0.92,0,0.001,1,209.40,793.40)" font-size="9.6" fill="#000" text-anchor="middle">20</text>
<circle cx="302.0" cy="750.325" r="6.8" fill="#fff" stroke="#3a3a3a" stroke-width="1.4"/>
<text transform="matrix(0.92,0,0.001,1,302.00,753.78)" font-size="9.6" fill="#000" text-anchor="middle">24</text>
<circle cx="394.7" cy="769.9250000000001" r="6.8" fill="#fff" stroke="#3a3a3a" stroke-width="1.4"/>
<text transform="matrix(0.92,0,0.001,1,394.70,773.38)" font-size="9.6" fill="#000" text-anchor="middle">26</text>
</svg>
</body></html>
